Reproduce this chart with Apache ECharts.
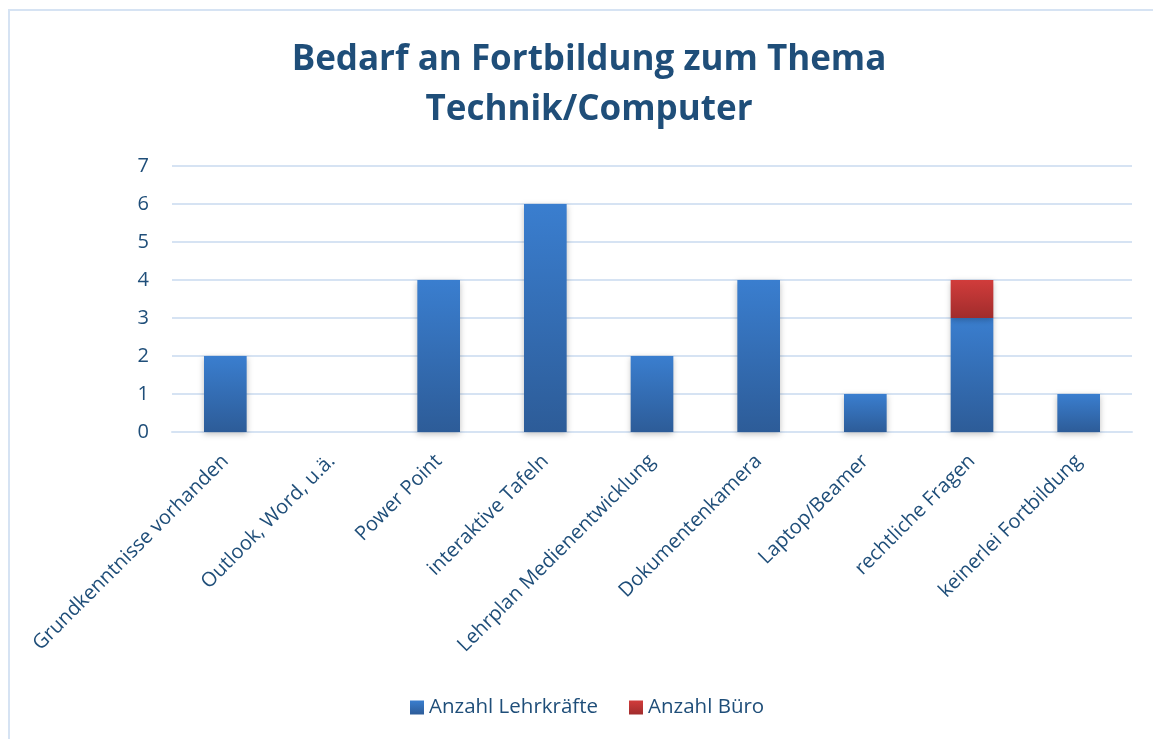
<!DOCTYPE html>
<html>
<head>
<meta charset="utf-8">
<script src="https://cdn.jsdelivr.net/npm/echarts@6/dist/echarts.min.js"></script>
<style>
  html, body { margin: 0; padding: 0; background: #fff; }
  #chart { width: 1153px; height: 739px; }
  .frame { position: absolute; left: 8px; top: 9px; width: 1160px; height: 760px; border: 2px solid #d6e3f3; box-sizing: border-box; pointer-events: none; }
</style>
</head>
<body>
<div id="chart"></div>
<div class="frame"></div>
<script>
// Kategorien und Werte
const categories = [
  'Grundkenntnisse vorhanden',
  'Outlook, Word, u.ä.',
  'Power Point',
  'interaktive Tafeln',
  'Lehrplan Medienentwicklung',
  'Dokumentenkamera',
  'Laptop/Beamer',
  'rechtliche Fragen',
  'keinerlei Fortbildung'
]
const lehrkraefte = [2, 0, 4, 6, 2, 4, 1, 3, 1]
const buero = [0, 0, 0, 0, 0, 0, 0, 1, 0]
const yTicks = [0, 1, 2, 3, 4, 5, 6, 7]

const textColor = '#1f4e79'
const font = '"Open Sans", sans-serif'

const chart = echarts.init(document.getElementById('chart'))
chart.setOption({
  animation: false,
  title: {
    text: 'Bedarf an Fortbildung zum Thema\nTechnik/Computer',
    left: 584,
    top: 30,
    textAlign: 'center',
    textStyle: {
      color: textColor,
      fontFamily: font,
      fontWeight: 'bold',
      fontSize: 35,
      lineHeight: 50
    }
  },
  legend: {
    bottom: 16,
    left: 405,
    itemWidth: 14,
    itemHeight: 14,
    itemGap: 31,
    icon: 'rect',
    textStyle: { color: textColor, fontFamily: font, fontSize: 20.5 },
    data: ['Anzahl Lehrkräfte', 'Anzahl Büro']
  },
  grid: {
    left: 172,
    right: 21,
    top: 166,
    bottom: 307
  },
  xAxis: {
    type: 'category',
    data: categories,
    axisLine: { lineStyle: { color: '#d6e3f3', width: 2 } },
    axisTick: { show: false },
    axisLabel: {
      rotate: 45,
      interval: 0,
      margin: 26,
      color: textColor,
      fontFamily: font,
      fontSize: 20
    }
  },
  yAxis: {
    type: 'value',
    min: yTicks[0],
    max: yTicks[yTicks.length - 1],
    interval: 1,
    axisLine: { show: false },
    axisTick: { show: false },
    splitLine: { lineStyle: { color: '#d6e3f3', width: 2 } },
    axisLabel: {
      margin: 23,
      color: textColor,
      fontFamily: font,
      fontSize: 20
    }
  },
  series: [
    {
      name: 'Anzahl Lehrkräfte',
      type: 'bar',
      stack: 'a',
      barWidth: '40%',
      data: lehrkraefte,
      itemStyle: {
        color: new echarts.graphic.LinearGradient(0, 0, 0, 1, [
          { offset: 0, color: '#3a7ecf' },
          { offset: 1, color: '#2d5c98' }
        ]),
        shadowColor: 'rgba(0,0,0,0.25)',
        shadowBlur: 6,
        shadowOffsetY: 2
      }
    },
    {
      name: 'Anzahl Büro',
      type: 'bar',
      stack: 'a',
      barWidth: '40%',
      data: buero,
      itemStyle: {
        color: new echarts.graphic.LinearGradient(0, 0, 0, 1, [
          { offset: 0, color: '#d13c3b' },
          { offset: 1, color: '#a12c2c' }
        ]),
        shadowColor: 'rgba(0,0,0,0.25)',
        shadowBlur: 6,
        shadowOffsetY: 2
      }
    }
  ]
})
window.addEventListener('resize', () => {
  chart.resize()
})
</script>
</body>
</html>
